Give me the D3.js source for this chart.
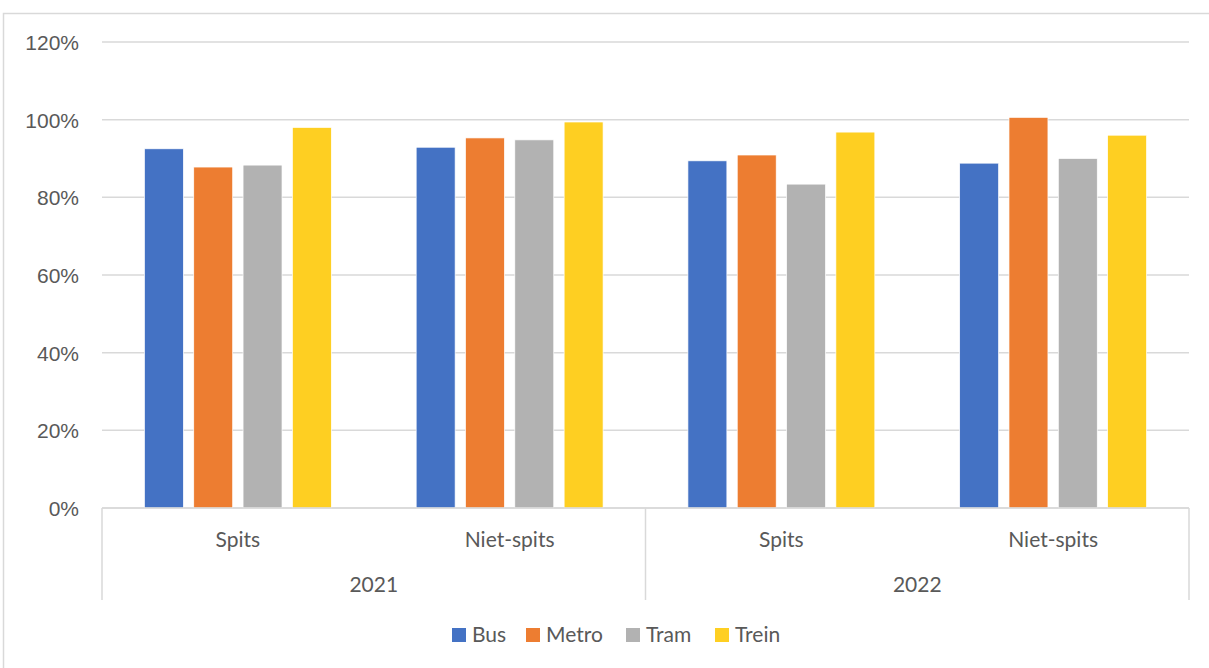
<!DOCTYPE html>
<html>
<head>
<meta charset="utf-8">
<script src="https://cdn.jsdelivr.net/npm/d3@7"></script>
<style>
  body { margin: 0; background: #fff; }
  svg { display: block; font-family: Lato, "Open Sans", sans-serif; }
  .axis text { fill: #595959; font-size: 21px; }
  .grid line { stroke: #d9d9d9; stroke-width: 1.5; }
  .legend text { fill: #595959; font-size: 21px; }
</style>
</head>
<body>
<script>
// data
const years = ["2021", "2022"];
const periods = ["Spits", "Niet-spits"];
const modes = ["Bus", "Metro", "Tram", "Trein"];
const colors = ["#4472c4", "#ed7d31", "#b2b2b2", "#fecf22"];
// per year/period, values for Bus, Metro, Tram, Trein
const values2021Spits = [0.925, 0.878, 0.883, 0.980];
const values2021NietSpits = [0.929, 0.953, 0.948, 0.994];
const values2022Spits = [0.894, 0.909, 0.834, 0.968];
const values2022NietSpits = [0.888, 1.006, 0.900, 0.960];
const yTicks = [0, 0.2, 0.4, 0.6, 0.8, 1.0, 1.2];

const rows = [
  { year: "2021", period: "Spits", vals: values2021Spits },
  { year: "2021", period: "Niet-spits", vals: values2021NietSpits },
  { year: "2022", period: "Spits", vals: values2022Spits },
  { year: "2022", period: "Niet-spits", vals: values2022NietSpits },
];
rows.forEach((r) => (r.key = r.year + "|" + r.period));

const W = 1209, H = 668;

const svg = d3.select("body").append("svg").attr("width", W).attr("height", H);

// chart frame
svg.append("rect")
  .attr("x", 3.5).attr("y", 13.5)
  .attr("width", W + 20).attr("height", H + 20)
  .attr("fill", "none").attr("stroke", "#d9d9d9").attr("stroke-width", 1.5);

const x0 = d3.scaleBand().domain(rows.map((r) => r.key)).range([102, 1189]).paddingInner(0).paddingOuter(0);
const x1 = d3.scaleBand().domain(modes).range([0, x0.bandwidth()]).paddingInner(0.21).paddingOuter(0.86);
const y = d3.scaleLinear().domain([0, 1.2]).range([508, 42]);

// gridlines
svg.append("g").attr("class", "grid")
  .selectAll("line").data(yTicks).join("line")
  .attr("x1", 102).attr("x2", 1189)
  .attr("y1", (d) => y(d)).attr("y2", (d) => y(d));

// y axis labels
const yAxis = d3.axisLeft(y).tickValues(yTicks).tickFormat(d3.format(".0%")).tickSize(0).tickPadding(23);
svg.append("g").attr("class", "axis").attr("transform", "translate(102,0)")
  .call(yAxis)
  .call((g) => g.select(".domain").remove())
  .call((g) => g.selectAll("text").attr("dy", "0.35em").style("font-size", null));

// bars
const groups = svg.append("g").selectAll("g").data(rows).join("g")
  .attr("transform", (d) => `translate(${x0(d.key)},0)`);
groups.selectAll("rect")
  .data((d) => d.vals.map((v, i) => ({ mode: modes[i], v, c: colors[i] })))
  .join("rect")
  .attr("x", (d) => x1(d.mode))
  .attr("width", x1.bandwidth())
  .attr("y", (d) => y(d.v))
  .attr("height", (d) => y(0) - y(d.v))
  .attr("fill", (d) => d.c)
  .attr("stroke", "#fff").attr("stroke-width", 0.7);

// category axis: baseline + separators
const axisG = svg.append("g").attr("class", "axis");
axisG.append("line").attr("x1", 102).attr("x2", 1189).attr("y1", y(0)).attr("y2", y(0))
  .attr("stroke", "#d9d9d9").attr("stroke-width", 1.5);
const yearX = d3.scaleBand().domain(years).range([102, 1189]);
const seps = [102, ...years.map((yr) => yearX(yr) + yearX.bandwidth())];
axisG.selectAll("line.sep").data(seps).join("line").attr("class", "sep")
  .attr("x1", (d) => d).attr("x2", (d) => d)
  .attr("y1", y(0)).attr("y2", 600)
  .attr("stroke", "#d9d9d9").attr("stroke-width", 1.5);

axisG.selectAll("text.period").data(rows).join("text").attr("class", "period")
  .attr("x", (d) => x0(d.key) + x0.bandwidth() / 2)
  .attr("y", 547).attr("text-anchor", "middle")
  .text((d) => d.period);
axisG.selectAll("text.year").data(years).join("text").attr("class", "year")
  .attr("x", (d) => yearX(d) + yearX.bandwidth() / 2)
  .attr("y", 592).attr("text-anchor", "middle")
  .text((d) => d);

// legend
const legendX = [452, 526, 626, 715];
const legend = svg.append("g").attr("class", "legend");
const items = legend.selectAll("g").data(modes).join("g")
  .attr("transform", (d, i) => `translate(${legendX[i]},628)`);
items.append("rect").attr("width", 14).attr("height", 14).attr("fill", (d, i) => colors[i]);
items.append("text").attr("x", 20).attr("y", 7).attr("dy", "0.35em").text((d) => d);
</script>
</body>
</html>
